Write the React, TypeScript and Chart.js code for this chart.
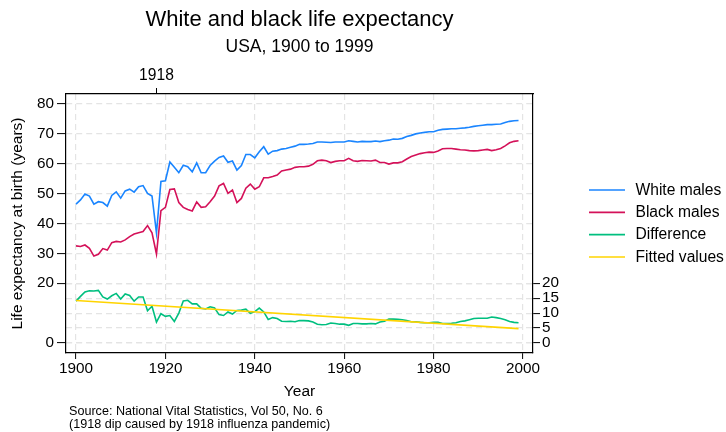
import React, { useEffect, useRef } from "react";
import { Chart, registerables } from "chart.js";

Chart.register(...registerables);

// ---------- data ----------
const years: number[] = Array.from({ length: 100 }, (_, i) => 1900 + i);

const whiteMales: number[] = [
  46.5, 47.9, 49.9, 49.2, 46.5, 47.3, 47.0, 45.8, 49.4, 50.6,
  48.5, 50.9, 51.5, 50.5, 52.3, 52.7, 50.1, 49.2, 36.8, 54.1,
  54.3, 60.6, 58.8, 57.0, 59.5, 59.0, 57.3, 60.3, 57.0, 57.0,
  59.4, 60.9, 62.1, 62.6, 60.5, 60.9, 57.9, 59.4, 63.1, 63.1,
  62.0, 64.0, 65.7, 63.2, 64.2, 64.4, 64.9, 65.1, 65.5, 65.9,
  66.5, 66.5, 66.6, 66.8, 67.3, 67.3, 67.2, 67.1, 67.3, 67.3,
  67.3, 67.7, 67.5, 67.3, 67.5, 67.4, 67.4, 67.6, 67.4, 67.7,
  67.9, 68.3, 68.2, 68.5, 69.1, 69.5, 70.0, 70.3, 70.5, 70.7,
  70.7, 71.2, 71.5, 71.6, 71.7, 71.7, 71.9, 72.0, 72.2, 72.5,
  72.7, 72.9, 73.1, 73.1, 73.2, 73.3, 73.8, 74.2, 74.4, 74.5,
];

const blackMales: number[] = [
  32.5, 32.3, 32.8, 31.7, 29.1, 29.7, 31.6, 31.1, 33.6, 34.0,
  33.8, 34.5, 35.6, 36.5, 36.9, 37.3, 39.3, 36.9, 29.8, 44.3,
  45.4, 51.4, 51.6, 47.0, 45.4, 44.7, 44.2, 47.2, 45.4, 45.6,
  47.3, 49.2, 52.6, 53.4, 50.1, 51.2, 47.0, 48.4, 51.8, 53.2,
  51.5, 52.3, 55.3, 55.3, 55.7, 56.2, 57.6, 57.9, 58.2, 58.8,
  59.0, 59.0, 59.2, 59.8, 61.0, 61.2, 61.0, 60.4, 60.8, 61.0,
  61.0, 61.8, 61.0, 60.8, 61.1, 61.0, 60.9, 61.2, 60.4, 60.4,
  59.9, 60.3, 60.3, 60.7, 61.6, 62.4, 62.9, 63.4, 63.7, 63.9,
  63.8, 64.3, 65.0, 65.1, 65.1, 64.9, 64.7, 64.6, 64.4, 64.3,
  64.4, 64.6, 64.8, 64.4, 64.7, 65.1, 66.0, 67.0, 67.5, 67.7,
];

// Difference = white males - black males (derived from the two series)
const difference: number[] = whiteMales.map((w, i) => Math.round((w - blackMales[i]) * 10) / 10);

// Fitted values (linear fit line), end points
const fittedYears: number[] = [1900, 1999];
const fittedValues: number[] = [14.2, 4.8];

const seriesLabels: string[] = ["White males", "Black males", "Difference", "Fitted values"];
const seriesColors: string[] = ["#1a85ff", "#d41159", "#00bf7f", "#ffd400"];

const xTicks: number[] = [1900, 1920, 1940, 1960, 1980, 2000];
const xTopTicks: number[] = [1918];
const yLeftTicks: number[] = [0, 20, 30, 40, 50, 60, 70, 80];
const yRightTicks: number[] = [0, 5, 10, 15, 20];

const noteLines: string[] = [
  "Source: National Vital Statistics, Vol 50, No. 6",
  "(1918 dip caused by 1918 influenza pandemic)",
];

// ---------- styling ----------
const FONT = '"Liberation Sans", Arial, Helvetica, sans-serif';
const X_MIN = 1897.76;
const X_MAX = 2002.24;
const Y_MIN = -3.35;
const Y_MAX = 83.35;
const GRID = "#e4e4e4";
const DASH = [6, 4];
const LW = 1.6;

const extraText = {
  id: "extraText",
  afterDraw(chart: any) {
    const { ctx, chartArea } = chart;
    ctx.save();
    const cy = (chartArea.top + chartArea.bottom) / 2;
    const x0 = chartArea.right + 56;
    seriesLabels.forEach((label, i) => {
      const y = cy + (i - 1.5) * 22.3;
      ctx.strokeStyle = seriesColors[i];
      ctx.lineWidth = LW;
      ctx.beginPath();
      ctx.moveTo(x0, y);
      ctx.lineTo(x0 + 36, y);
      ctx.stroke();
      ctx.fillStyle = "#000";
      ctx.font = `15.6px ${FONT}`;
      ctx.textAlign = "left";
      ctx.textBaseline = "middle";
      ctx.fillText(label, x0 + 46.5, y + 0.5);
    });
    ctx.font = `12.6px ${FONT}`;
    ctx.fillStyle = "#000";
    ctx.textAlign = "left";
    ctx.textBaseline = "middle";
    noteLines.forEach((t, i) => ctx.fillText(t, 69, 411.7 + i * 13.3));
    ctx.restore();
  },
};

export default function App() {
  const ref = useRef<HTMLCanvasElement | null>(null);

  useEffect(() => {
    document.body.style.margin = "0";
    const canvas = ref.current;
    if (!canvas) return;

    const pts = (xs: number[], ys: number[]) => xs.map((x, i) => ({ x, y: ys[i] }));
    const tickFont = (size: number) => ({ family: FONT, size });

    const chart = new Chart(canvas, {
      type: "line",
      data: {
        datasets: [
          {
            label: seriesLabels[0],
            data: pts(years, whiteMales),
            borderColor: seriesColors[0],
            borderWidth: LW,
            pointRadius: 0,
            fill: false,
            tension: 0,
            xAxisID: "x",
            yAxisID: "y",
            order: 3,
          },
          {
            label: seriesLabels[1],
            data: pts(years, blackMales),
            borderColor: seriesColors[1],
            borderWidth: LW,
            pointRadius: 0,
            fill: false,
            tension: 0,
            xAxisID: "x",
            yAxisID: "y",
            order: 2,
          },
          {
            label: seriesLabels[2],
            data: pts(years, difference),
            borderColor: seriesColors[2],
            borderWidth: LW,
            pointRadius: 0,
            fill: false,
            tension: 0,
            xAxisID: "x",
            yAxisID: "y2",
            order: 1,
          },
          {
            label: seriesLabels[3],
            data: pts(fittedYears, fittedValues),
            borderColor: seriesColors[3],
            borderWidth: LW,
            pointRadius: 0,
            fill: false,
            tension: 0,
            xAxisID: "x",
            yAxisID: "y2",
            order: 0,
          },
        ],
      },
      options: {
        responsive: false,
        animation: false,
        events: [],
        layout: { padding: { left: 0, right: 0, top: 0, bottom: 31 } },
        plugins: {
          legend: { display: false },
          tooltip: { enabled: false },
          title: {
            display: true,
            text: "White and black life expectancy",
            color: "#000",
            font: { family: FONT, size: 22, weight: "normal" },
            padding: { top: 7, bottom: 0 },
            fullSize: false,
          },
          subtitle: {
            display: true,
            text: "USA, 1900 to 1999",
            color: "#000",
            font: { family: FONT, size: 17.5, weight: "normal" },
            padding: { top: 3, bottom: 0 },
            fullSize: false,
          },
        },
        scales: {
          x: {
            type: "linear",
            position: "bottom",
            min: X_MIN,
            max: X_MAX,
            afterBuildTicks: (s: any) => {
              s.ticks = xTicks.map((v) => ({ value: v }));
            },
            afterFit: (s: any) => {
              s.height = 48;
            },
            ticks: {
              callback: (v: any) => String(v),
              font: tickFont(15.3),
              color: "#000",
              padding: 1,
              maxRotation: 0,
              autoSkip: false,
            },
            grid: {
              color: GRID,
              lineWidth: 1.2,
              tickColor: "#000",
              tickLength: 6,
              tickWidth: 1,
              tickBorderDash: [],
            },
            border: { display: true, color: "#000", width: 1.2, dash: DASH },
            title: {
              display: true,
              text: "Year",
              color: "#000",
              font: { family: FONT, size: 15.5 },
              padding: { top: 0, bottom: 0 },
            },
          },
          x2: {
            type: "linear",
            position: "top",
            min: X_MIN,
            max: X_MAX,
            afterBuildTicks: (s: any) => {
              s.ticks = xTopTicks.map((v) => ({ value: v }));
            },
            afterFit: (s: any) => {
              s.height = 36.6;
            },
            ticks: {
              callback: (v: any) => String(v),
              font: tickFont(15.6),
              color: "#000",
              padding: 3,
              maxRotation: 0,
              autoSkip: false,
            },
            grid: {
              drawOnChartArea: false,
              tickColor: "#000",
              tickLength: 6,
              tickWidth: 1,
              tickBorderDash: [],
            },
            border: { display: true, color: "#000", width: 1.2 },
          },
          y: {
            type: "linear",
            position: "left",
            min: Y_MIN,
            max: Y_MAX,
            afterBuildTicks: (s: any) => {
              s.ticks = yLeftTicks.map((v) => ({ value: v }));
            },
            afterFit: (s: any) => {
              s.width = 66;
            },
            ticks: {
              callback: (v: any) => String(v),
              font: tickFont(15.3),
              color: "#000",
              padding: 3,
              autoSkip: false,
            },
            grid: {
              color: GRID,
              lineWidth: 1.2,
              tickColor: "#000",
              tickLength: 9,
              tickWidth: 1,
              tickBorderDash: [],
            },
            border: { display: true, color: "#000", width: 1.2, dash: DASH },
            title: {
              display: true,
              text: "Life expectancy at birth (years)",
              color: "#000",
              font: { family: FONT, size: 15.5 },
              padding: { top: 8, bottom: 0 },
            },
          },
          y2: {
            type: "linear",
            position: "right",
            min: Y_MIN,
            max: Y_MAX,
            afterBuildTicks: (s: any) => {
              s.ticks = yRightTicks.map((v) => ({ value: v }));
            },
            afterFit: (s: any) => {
              s.width = 193;
            },
            ticks: {
              callback: (v: any) => String(v),
              font: tickFont(15.3),
              color: "#000",
              padding: 2,
              autoSkip: false,
            },
            grid: {
              color: GRID,
              lineWidth: 1.2,
              tickColor: "#000",
              tickLength: 7,
              tickWidth: 1,
              tickBorderDash: [],
            },
            border: { display: true, color: "#000", width: 1.2, dash: DASH },
          },
        },
      } as any,
      plugins: [extraText],
    });

    return () => chart.destroy();
  }, []);

  return (
    <div style={{ position: "absolute", left: 0, top: 0, width: 726, height: 432, background: "#fff" }}>
      <canvas ref={ref} width={726} height={432} style={{ display: "block", width: 726, height: 432 }} />
    </div>
  );
}
